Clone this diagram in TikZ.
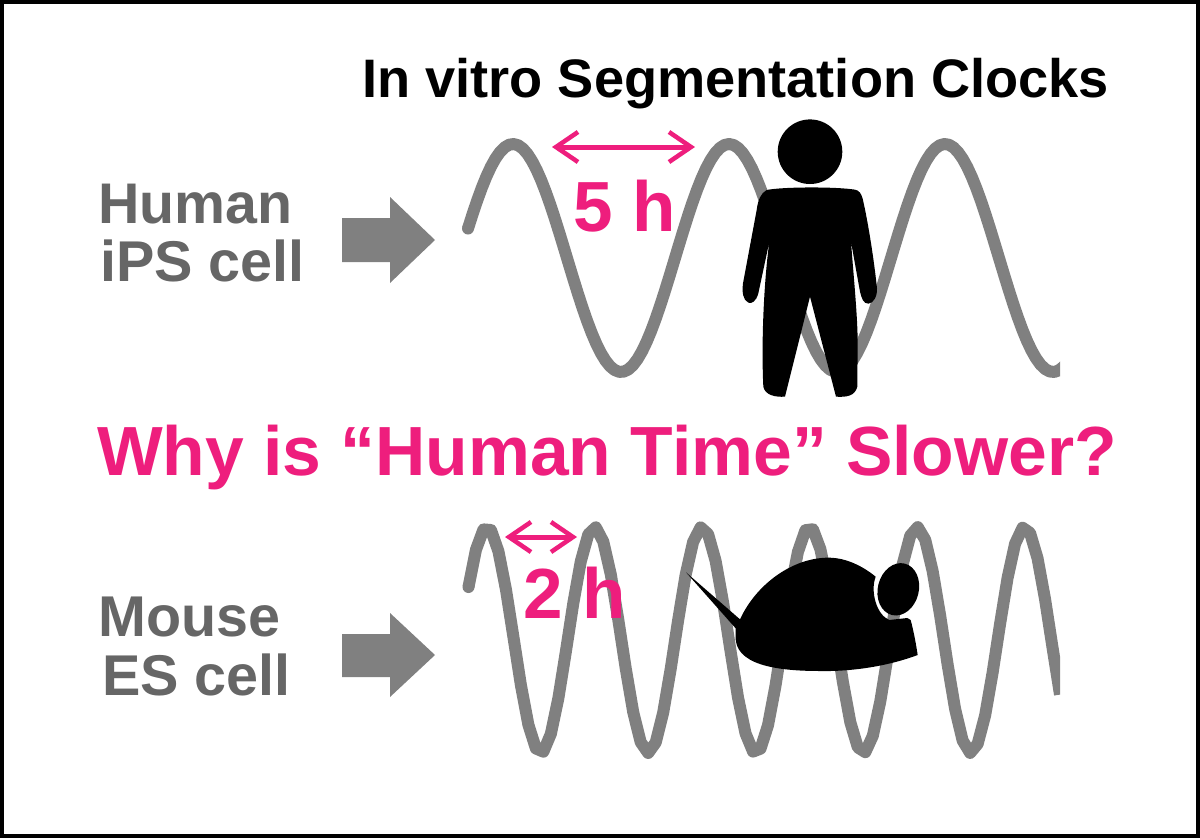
\documentclass[tikz,border=0pt]{standalone}
\usepackage{fontspec}
\setmainfont{Liberation Sans}
\usetikzlibrary{arrows.meta}
\definecolor{pinkc}{HTML}{EE1E7D}
\definecolor{wavec}{HTML}{808080}
\definecolor{textg}{HTML}{666666}
\tikzset{
  wave/.style={draw=wavec,line width=12pt,line join=round},
  title/.style={anchor=base west,inner sep=0pt,font=\fontsize{#1}{#1}\selectfont\bfseries},
  blocka/.style={fill=wavec},
  span/.style={draw=pinkc,line width=5pt,{Straight Barb[length=22pt,width=30pt,line width=4.5pt]}-{Straight Barb[length=22pt,width=30pt,line width=4.5pt]}},
  shapefill/.style={fill=black}
}
\begin{document}
\begin{tikzpicture}[x=1pt,y=-1pt]
\useasboundingbox (0,0) rectangle (1200,839);
\draw[line width=4pt,fill=white] (2,2) rectangle (1198,836);
% waves
\begin{scope}
\clip (0,0) rectangle (1060,839);
\draw[wave] plot[domain=468:1068,samples=132] (\x,{258-114*cos((\x-513)/216*360)});
\draw[wave] plot[domain=468.5:1060,samples=80] (\x,{640-113*cos((\x-487)/107.5*360)});
\end{scope}
\fill[wavec] (468,228.5) circle (6);
\fill[wavec] (468.5,587) circle (6);
% block arrows
\fill[blocka] (342,218) -- (390,218) -- (390,197) -- (435,240) -- (390,283) -- (390,262) -- (342,262) -- cycle;
\fill[blocka] (342,634) -- (390,634) -- (390,613) -- (435,655) -- (390,697) -- (390,677) -- (342,677) -- cycle;
% human
\fill[shapefill] (810,151.7) circle (32.3);
\begin{scope}[shift={(720,100)},x=0.33333pt,y=-0.33333pt]
\fill[shapefill] (140,270) .. controls (190,260) and (350,260) .. (405,269)
  .. controls (418,271) and (424,282) .. (428,296)
  .. controls (445,370) and (462,480) .. (471,565)
  .. controls (472,590) and (460,610) .. (445,611)
  .. controls (430,611) and (425,595) .. (420,575)
  -- (393,425)
  .. controls (400,520) and (412,640) .. (413,720)
  -- (412,860)
  .. controls (405,888) and (380,892) .. (348,890)
  -- (270,590) -- (195,890)
  .. controls (165,892) and (135,885) .. (130,860)
  .. controls (124,740) and (130,560) .. (148,425)
  -- (115,580)
  .. controls (108,605) and (95,612) .. (85,608)
  .. controls (68,600) and (66,575) .. (69,550)
  -- (110,330)
  .. controls (114,300) and (122,280) .. (140,270) -- cycle;
\end{scope}
% mouse
\begin{scope}[shift={(670,520)},x=0.33333pt,y=-0.33333pt]
\fill[shapefill] (48,157) -- (210,298)
  .. controls (260,190) and (370,113) .. (475,113)
  .. controls (530,113) and (580,140) .. (617,170)
  .. controls (600,215) and (620,285) .. (658,300)
  -- (712,294) -- (722,300)
  .. controls (730,330) and (738,370) .. (743,405)
  .. controls (650,440) and (540,455) .. (450,453)
  .. controls (320,453) and (190,435) .. (197,345)
  -- (197,325) -- cycle;
\end{scope}
\fill[shapefill] [rotate around={-14:(898.3,589.3)}] (898.3,589.3) ellipse [x radius=20.5pt,y radius=26.5pt];
% spans
\coordinate (a1) at (552,147);
\coordinate (a2) at (695,147);
\coordinate (b1) at (505,537);
\coordinate (b2) at (577,537);
\draw[span] (a1) -- (a2);
\draw[span] (b1) -- (b2);
% texts
\node[title=54.2] (t1) at (362,97) {In vitro Segmentation Clocks};
\node[title=69.6,text=pinkc] (t2) at (97,475) {Why is “Human Time” Slower?};
\node[title=57.3,text=textg] (h1) at (98,223) {Human};
\node[title=57.5,text=textg] (h2) at (100,281) {iPS cell};
\node[title=57.5,text=textg] (m1) at (98,636) {Mouse};
\node[title=57.5,text=textg] (m2) at (102,695) {ES cell};
\node[title=71,text=pinkc] (f) at (573,231) {5 h};
\node[title=71,text=pinkc] (g) at (523,618) {2 h};
\end{tikzpicture}
\end{document}
